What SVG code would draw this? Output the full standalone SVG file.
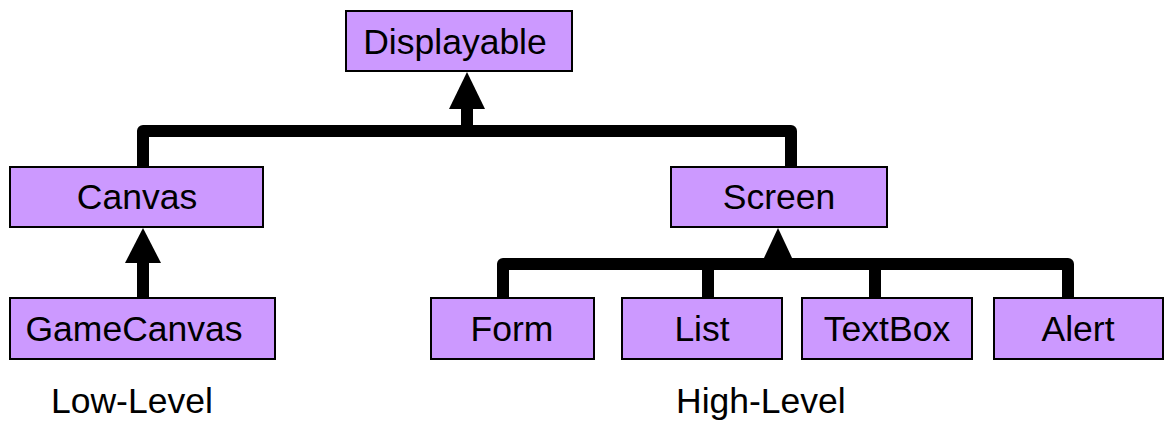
<svg xmlns="http://www.w3.org/2000/svg" width="1166" height="421" viewBox="0 0 1166 421">
<style>
.box{fill:#cc99ff;stroke:#000;stroke-width:2}
.t{font-family:"Liberation Sans",Arial,sans-serif;font-size:35.5px;fill:#000;text-anchor:middle}
.lbl{font-family:"Liberation Sans",Arial,sans-serif;font-size:35.5px;fill:#000}
.ln{fill:none;stroke:#000;stroke-width:12;stroke-linejoin:round;stroke-linecap:butt}
</style>
<rect width="1166" height="421" fill="#fff"/>
<g id="connectors">
<path class="ln" d="M143,168 V131 H791 V168"/>
<path class="ln" d="M467,131 V100"/>
<polygon points="467,72 449,109 485,109" fill="#000"/>
<path class="ln" d="M143,298 V255"/>
<polygon points="143,228 125,263 161,263" fill="#000"/>
<path class="ln" d="M503,298 V264 H1068 V298"/>
<path class="ln" d="M708,264 V298"/>
<path class="ln" d="M875,264 V298"/>
<polygon points="778,228 763,260 793,260" fill="#000"/>
</g>
<g id="displayable"><rect class="box" x="346" y="11" width="226" height="60"/><text class="t" x="455" y="54">Displayable</text></g>
<g id="canvas"><rect class="box" x="10" y="167" width="253" height="60"/><text class="t" x="137" y="209">Canvas</text></g>
<g id="screen"><rect class="box" x="671" y="167" width="216" height="60"/><text class="t" x="779" y="209">Screen</text></g>
<g id="gamecanvas"><rect class="box" x="10" y="298" width="265" height="61"/><text class="t" x="134" y="341">GameCanvas</text></g>
<g id="form"><rect class="box" x="431" y="298" width="163" height="61"/><text class="t" x="512" y="341">Form</text></g>
<g id="list"><rect class="box" x="622" y="298" width="160" height="61"/><text class="t" x="702" y="341">List</text></g>
<g id="textbox"><rect class="box" x="802" y="298" width="170" height="61"/><text class="t" x="887" y="341">TextBox</text></g>
<g id="alert"><rect class="box" x="994" y="298" width="169" height="61"/><text class="t" x="1078" y="341">Alert</text></g>
<g id="labels">
<text class="lbl" x="51" y="413">Low-Level</text>
<text class="lbl" x="676" y="413">High-Level</text>
</g>
</svg>
